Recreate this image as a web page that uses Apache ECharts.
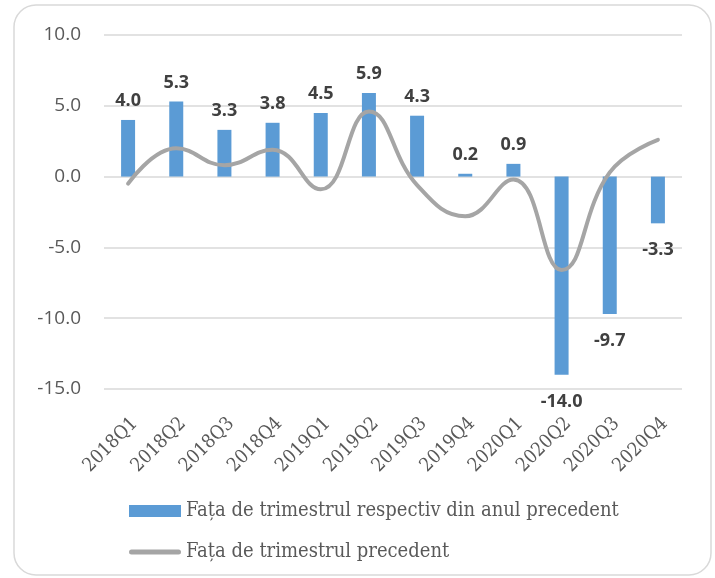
<!DOCTYPE html>
<html>
<head>
<meta charset="utf-8">
<script src="https://cdn.jsdelivr.net/npm/echarts@6/dist/echarts.min.js"></script>
<style>
html,body{margin:0;padding:0;background:#fff;}
#chart{width:715px;height:578px;}
</style>
</head>
<body>
<div id="chart"></div>
<script>
// quarters on the x axis
var quarters = ['2018Q1','2018Q2','2018Q3','2018Q4','2019Q1','2019Q2','2019Q3','2019Q4','2020Q1','2020Q2','2020Q3','2020Q4'];
// bars: vs same quarter of previous year
var yoy = [4.0, 5.3, 3.3, 3.8, 4.5, 5.9, 4.3, 0.2, 0.9, -14.0, -9.7, -3.3];
// line: vs previous quarter
var qoq = [-0.5, 2.0, 0.8, 1.9, -0.9, 4.6, -0.6, -2.8, -0.2, -6.6, 0.3, 2.6];
var NAME_YOY = 'Fața de trimestrul respectiv din anul precedent';
var NAME_QOQ = 'Fața de trimestrul precedent';

var chart = echarts.init(document.getElementById('chart'));

chart.setOption({
	animation: false,
	graphic: [{
		type: 'rect',
		shape: {x: 14, y: 5, width: 697, height: 570, r: 22},
		style: {fill: 'none', stroke: '#d9d9d9', lineWidth: 1.5},
		silent: true
	}],
	grid: {
		left: 104,
		right: 33,
		top: 35,
		bottom: 189
	},
	legend: {
		orient: 'vertical',
		left: 124,
		top: 496,
		itemWidth: 52,
		itemHeight: 12,
		itemGap: 21,
		textStyle: {
			fontFamily: 'DejaVu Serif Condensed',
			fontSize: 20,
			color: '#595959'
		},
		data: [
			{name: NAME_YOY, icon: 'rect'},
			{name: NAME_QOQ, icon: 'path://M2.5,0 L49.5,0 A2.5,2.5 0 0 1 49.5,5 L2.5,5 A2.5,2.5 0 0 1 2.5,0 Z'}
		]
	},
	xAxis: {
		type: 'category',
		data: quarters,
		axisLine: {show: false},
		axisTick: {show: false},
		axisLabel: {
			rotate: 45,
			margin: 25,
			verticalAlign: 'top',
			fontFamily: 'DejaVu Serif Condensed',
			fontSize: 19,
			color: '#595959'
		}
	},
	yAxis: {
		type: 'value',
		min: -15,
		max: 10,
		interval: 5,
		axisLine: {show: false},
		axisTick: {show: false},
		axisLabel: {
			margin: 23,
			fontFamily: 'Open Sans',
			fontSize: 19,
			color: '#595959',
			formatter: function(v) { return v.toFixed(1); }
		},
		splitLine: {
			lineStyle: {color: '#d9d9d9', width: 1.5}
		}
	},
	series: [{
		name: NAME_YOY,
		type: 'bar',
		data: yoy.map(function(v) {
			// negative bars get their label underneath
			return v < 0 ? {value: v, label: {position: 'bottom', distance: 18}} : v;
		}),
		barWidth: 14,
		itemStyle: {color: '#5b9bd5'},
		label: {
			show: true,
			position: 'top',
			distance: 10,
			fontFamily: 'Open Sans',
			fontWeight: 'bold',
			fontSize: 18,
			color: '#404040',
			formatter: function(p) { return p.value.toFixed(1); }
		}
	}, {
		name: NAME_QOQ,
		type: 'line',
		data: qoq,
		smooth: 0.45,
		symbol: 'none',
		lineStyle: {color: '#a5a5a5', width: 4, cap: 'round'},
		itemStyle: {color: '#a5a5a5'},
		z: 3
	}]
});
</script>
</body>
</html>
